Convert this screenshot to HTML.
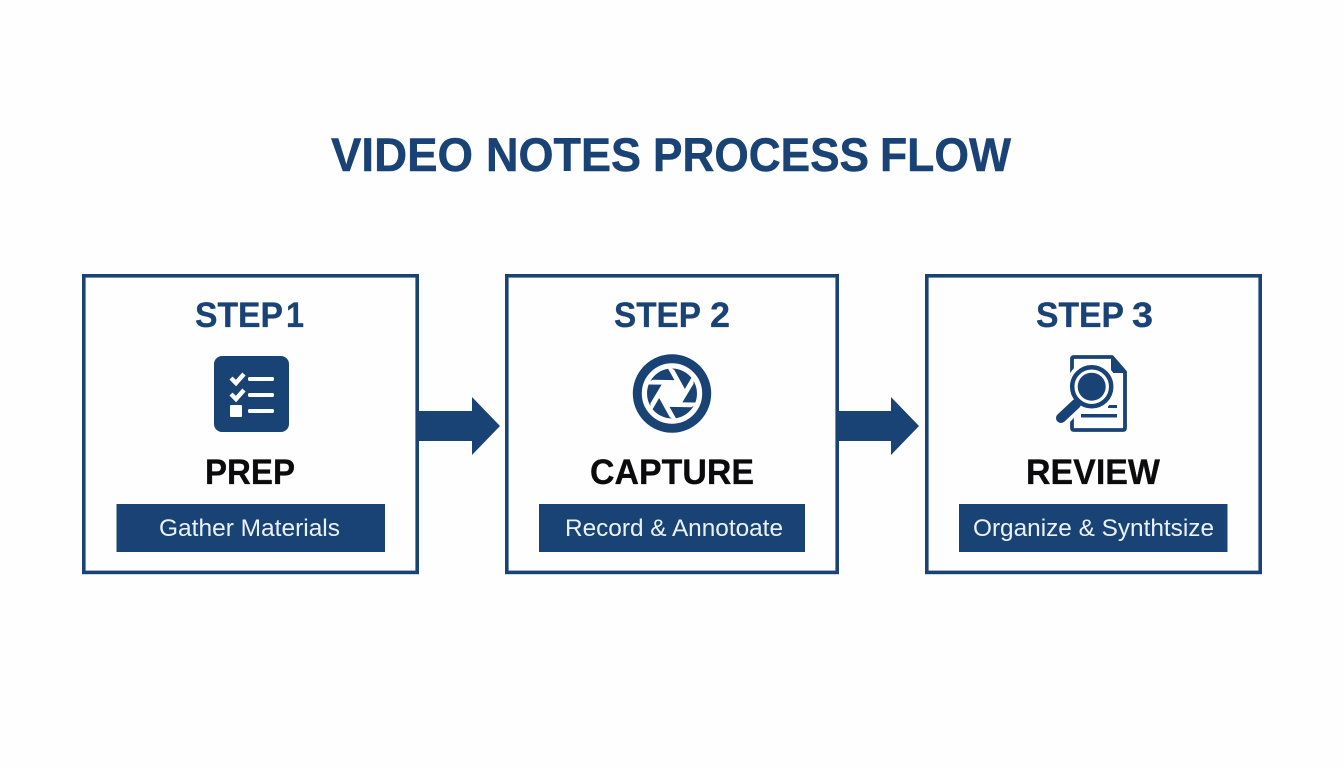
<!DOCTYPE html>
<html>
<head>
<meta charset="utf-8">
<style>
html,body{margin:0;padding:0;background:#fefefe}
svg{display:block}
text{font-family:"Liberation Sans",sans-serif}
</style>
</head>
<body>
<svg width="1344" height="768" viewBox="0 0 1344 768" xmlns="http://www.w3.org/2000/svg">
<defs>
<path id="blade" d="M-21.6,-12.5 A25,25 0 0 1 -3.9,-24.7 L2.5,-13.4 L-19.2,-13.8 Z" fill="#1a4375"/>
</defs>
<rect width="1344" height="768" fill="#fefefe"/>

<!-- Title -->
<g font-size="47" font-weight="700" fill="#1a4375" stroke="#1a4375" stroke-width="0.5">
<text x="331" y="171" textLength="142" lengthAdjust="spacingAndGlyphs">VIDEO</text>
<text x="486" y="171" textLength="155" lengthAdjust="spacingAndGlyphs">NOTES</text>
<text x="653" y="171" textLength="216" lengthAdjust="spacingAndGlyphs">PROCESS</text>
<text x="880" y="171" textLength="131" lengthAdjust="spacingAndGlyphs">FLOW</text>
</g>

<!-- Boxes -->
<rect x="83.8" y="275.8" width="333.4" height="296.6" fill="#fefefe" stroke="#1a4375" stroke-width="3.6"/>
<rect x="506.8" y="275.8" width="330.4" height="296.6" fill="#fefefe" stroke="#1a4375" stroke-width="3.6"/>
<rect x="926.8" y="275.8" width="333.4" height="296.6" fill="#fefefe" stroke="#1a4375" stroke-width="3.6"/>

<!-- Arrows -->
<polygon points="418,411 472,411 472,397 500,426 472,455 472,441 418,441" fill="#1a4375"/>
<polygon points="838,411 891,411 891,397 919,426 891,455 891,441 838,441" fill="#1a4375"/>

<!-- Step labels -->
<g font-size="35" font-weight="700" fill="#1a4375" stroke="#1a4375" stroke-width="0.3">
<text x="195" y="327" textLength="88" lengthAdjust="spacingAndGlyphs">STEP</text>
<text x="286" y="327" textLength="18" lengthAdjust="spacingAndGlyphs">1</text>
<text x="614" y="327" textLength="87" lengthAdjust="spacingAndGlyphs">STEP</text>
<text x="710" y="327" textLength="20" lengthAdjust="spacingAndGlyphs">2</text>
<text x="1036" y="327" textLength="88" lengthAdjust="spacingAndGlyphs">STEP</text>
<text x="1132" y="327" textLength="21" lengthAdjust="spacingAndGlyphs">3</text>
</g>

<!-- Icon 1 -->
<rect x="214" y="356" width="75" height="76" rx="8" fill="#1a4375"/>
<path d="M231,378 L236,383 L244,374 M231,394 L236,399 L244,390" fill="none" stroke="#fefefe" stroke-width="4.4"/>
<rect x="248" y="377" width="26" height="4" rx="1.5" fill="#fefefe"/>
<rect x="248" y="393" width="26" height="4" rx="1.5" fill="#fefefe"/>
<rect x="248" y="409" width="26" height="4" rx="1.5" fill="#fefefe"/>
<rect x="230" y="405" width="12" height="12" rx="1" fill="#fefefe"/>

<!-- Icon 2 -->
<circle cx="672" cy="393.5" r="34.7" fill="#fefefe" stroke="#1a4375" stroke-width="9"/>
<g transform="translate(672 393.5)">
<use href="#blade"/>
<use href="#blade" transform="rotate(60)"/>
<use href="#blade" transform="rotate(120)"/>
<use href="#blade" transform="rotate(180)"/>
<use href="#blade" transform="rotate(240)"/>
<use href="#blade" transform="rotate(300)"/>
<circle r="11.5" fill="#fefefe"/>
</g>

<!-- Icon 3 -->
<path d="M1072,420 V359 Q1072,357 1074,357 H1112 L1125,372 V428 Q1125,430 1123,430 H1074 Q1072,430 1072,428 Z" fill="#fefefe" stroke="#1a4375" stroke-width="3.8" stroke-linejoin="round"/>
<polygon points="1111,356 1127,373 1111,373" fill="#1a4375"/>
<rect x="1108" y="405" width="9" height="3" fill="#1a4375"/>
<rect x="1081" y="414" width="36" height="3.5" fill="#1a4375"/>
<circle cx="1091.7" cy="386.7" r="25.5" fill="#fefefe"/>
<path d="M1076,403 L1064,416" stroke="#fefefe" stroke-width="17" stroke-linecap="round"/>
<path d="M1076,404 L1061,418" stroke="#1a4375" stroke-width="10" stroke-linecap="round"/>
<circle cx="1091.7" cy="386.7" r="19.5" fill="#fefefe" stroke="#1a4375" stroke-width="4.5"/>
<circle cx="1091.7" cy="386.7" r="14" fill="#1a4375"/>

<!-- Names -->
<g font-size="35" font-weight="700" fill="#0b0b0d" stroke="#0b0b0d" stroke-width="0.3">
<text x="205" y="484" textLength="90" lengthAdjust="spacingAndGlyphs">PREP</text>
<text x="590" y="484" textLength="164" lengthAdjust="spacingAndGlyphs">CAPTURE</text>
<text x="1026" y="484" textLength="134" lengthAdjust="spacingAndGlyphs">REVIEW</text>
</g>

<!-- Bars -->
<rect x="116.5" y="504" width="268.5" height="48" fill="#1a4375"/>
<rect x="539" y="504" width="266" height="48" fill="#1a4375"/>
<rect x="959" y="504" width="268.5" height="48" fill="#1a4375"/>

<g font-size="24" fill="#eaf2f9">
<text x="159" y="536" textLength="181" lengthAdjust="spacingAndGlyphs">Gather Materials</text>
<text x="565" y="536" textLength="218" lengthAdjust="spacingAndGlyphs">Record &amp; Annotoate</text>
<text x="973" y="536" textLength="241" lengthAdjust="spacingAndGlyphs">Organize &amp; Synthtsize</text>
</g>
</svg>
</body>
</html>
